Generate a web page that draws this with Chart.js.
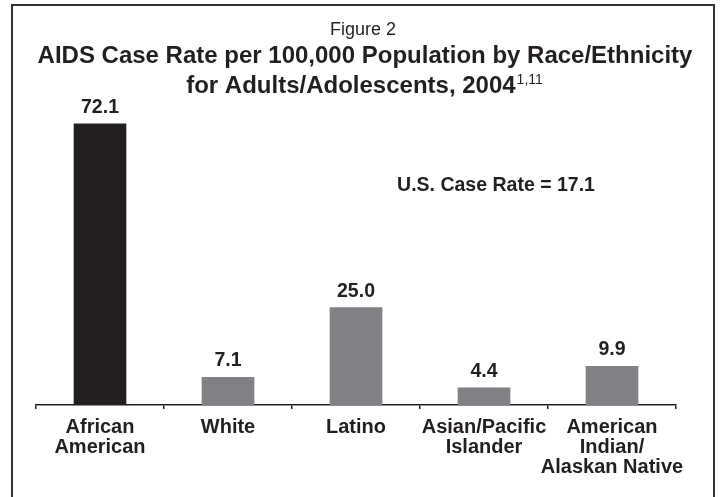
<!DOCTYPE html>
<html>
<head>
    <title>AIDS Case Rate by Race/Ethnicity, 2004</title>
    <script src="https://cdn.jsdelivr.net/npm/chart.js@4.4.1/dist/chart.umd.min.js"></script>
    <style>
        html, body {
            margin: 0;
            padding: 0;
            background: #fff;
            overflow: hidden;
        }
        .wrap {
            position: relative;
            width: 722px;
            height: 497px;
        }
        .frame {
            position: absolute;
            left: 11px;
            top: 4px;
            width: 700px;
            height: 600px;
            border: 2px solid #333;
            border-bottom: none;
            pointer-events: none;
        }
        canvas {
            position: absolute;
            left: 0;
            top: 0;
        }
    </style>
</head>
<body>
    <div class="wrap">
        <canvas id="chart" width="722" height="497"></canvas>
        <div class="frame"></div>
    </div>

    <script>
        const categories = [
            ['African', 'American'],
            'White',
            'Latino',
            ['Asian/Pacific', 'Islander'],
            ['American', 'Indian/', 'Alaskan Native']
        ];
        const caseRates = [72.1, 7.1, 25.0, 4.4, 9.9];
        const barColors = ['#231f20', '#808184', '#808184', '#808184', '#808184'];

        const figureLabel = 'Figure 2';
        const titleLines = ['AIDS Case Rate per 100,000 Population by Race/Ethnicity', 'for Adults/Adolescents, 2004'];
        const titleNote = '1,11';
        const usRateNote = 'U.S. Case Rate = 17.1';

        const textColor = '#231f20';
        const fontFamily = '"Liberation Sans", Arial, Helvetica, sans-serif';

        // headings and the U.S. rate note
        const headingPlugin = {
            id: 'headings',
            afterDraw(chart) {
                const ctx = chart.ctx;
                const cx = 364;
                ctx.save();
                ctx.fillStyle = textColor;
                ctx.textBaseline = 'alphabetic';
                ctx.textAlign = 'center';

                ctx.font = '18px ' + fontFamily;
                ctx.fillText(figureLabel, cx - 1, 35);

                ctx.font = 'bold 24px ' + fontFamily;
                ctx.fillText(titleLines[0], cx + 1, 63);

                // second line with a superscript note, centred as a whole
                ctx.textAlign = 'left';
                const mainW = ctx.measureText(titleLines[1]).width;
                ctx.font = '14px ' + fontFamily;
                const supW = ctx.measureText(titleNote).width;
                const startX = cx - (mainW + supW) / 2;
                ctx.font = 'bold 24px ' + fontFamily;
                ctx.fillText(titleLines[1], startX, 93);
                ctx.font = '14px ' + fontFamily;
                ctx.fillText(titleNote, startX + mainW + 1, 84);

                ctx.font = 'bold 19.5px ' + fontFamily;
                ctx.textAlign = 'center';
                ctx.fillText(usRateNote, 496, 191);
                ctx.restore();
            }
        };

        // value labels above each bar
        const valueLabelPlugin = {
            id: 'valueLabels',
            afterDatasetsDraw(chart) {
                const ctx = chart.ctx;
                const meta = chart.getDatasetMeta(0);
                ctx.save();
                ctx.fillStyle = textColor;
                ctx.font = 'bold 19.5px ' + fontFamily;
                ctx.textAlign = 'center';
                ctx.textBaseline = 'alphabetic';
                meta.data.forEach((bar, i) => {
                    ctx.fillText(caseRates[i].toFixed(1), bar.x, bar.y - 11);
                });
                ctx.restore();
            }
        };

        new Chart(document.getElementById('chart').getContext('2d'), {
            type: 'bar',
            data: {
                labels: categories,
                datasets: [{
                    data: caseRates,
                    backgroundColor: barColors,
                    borderWidth: 0,
                    barThickness: 52
                }]
            },
            options: {
                responsive: false,
                animation: false,
                layout: {
                    padding: { left: 36, right: 46, top: 93, bottom: 12 }
                },
                plugins: {
                    legend: { display: false },
                    title: { display: false },
                    tooltip: { enabled: false }
                },
                scales: {
                    x: {
                        afterFit(scale) { scale.height = 80; },
                        grid: {
                            display: true,
                            drawOnChartArea: false,
                            drawTicks: true,
                            tickLength: 4,
                            color: textColor,
                            lineWidth: 1.5
                        },
                        border: { display: true, color: textColor, width: 1.5 },
                        ticks: {
                            color: textColor,
                            padding: 8,
                            maxRotation: 0,
                            autoSkip: false,
                            font: { family: fontFamily, size: 20, weight: 'bold', lineHeight: 1.0 }
                        }
                    },
                    y: {
                        display: false,
                        min: 0,
                        max: 80
                    }
                }
            },
            plugins: [headingPlugin, valueLabelPlugin]
        });
    </script>
</body>
</html>
